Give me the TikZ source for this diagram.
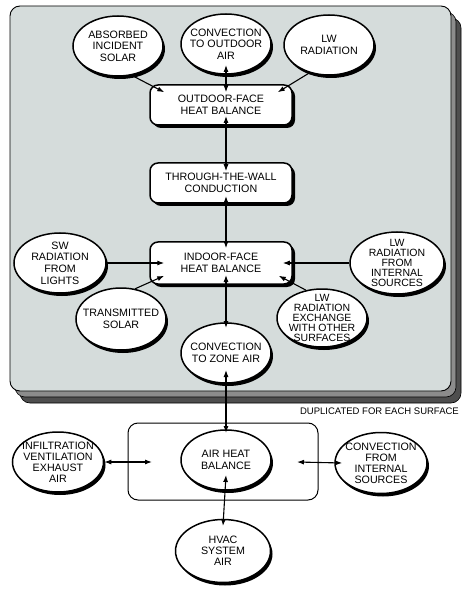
\documentclass[tikz,border=0pt]{standalone}
\usepackage{fontspec}
\setmainfont{Liberation Sans}
\usetikzlibrary{shapes.geometric,shadows,calc,arrows.meta}
\definecolor{panelfill}{HTML}{D5DCDB}
\definecolor{layerone}{HTML}{8C8C8C}
\definecolor{layertwo}{HTML}{4E4E4E}
\begin{document}
\begin{tikzpicture}[x=1pt,y=-1pt,
  ell/.style={ellipse,draw,line width=1.5pt,fill=white,minimum width=90pt,minimum height=60pt,inner sep=0pt,
    drop shadow={shadow xshift=2pt,shadow yshift=-3pt,fill=black,opacity=1}},
  lbl/.style={align=center,inner sep=0pt,font=\fontsize{10.7}{11.6}\selectfont},
  tlbl/.style={align=center,inner sep=0pt,font=\fontsize{10.5}{10.2}\selectfont},
  bx/.style={rectangle,rounded corners=8pt,draw,line width=1.5pt,fill=white,minimum width=142pt,minimum height=40pt,
    align=center,inner sep=0pt,font=\fontsize{10.7}{11.6}\selectfont,
    drop shadow={shadow xshift=3pt,shadow yshift=-3pt,fill=black,opacity=1}},
  sar/.style={-{Latex[length=7pt,width=5pt]},line width=1.1pt},
  dar/.style={{Latex[length=7pt,width=5pt]}-{Latex[length=7pt,width=5pt]},line width=1.1pt}]
\useasboundingbox[fill=white] (0,0) rectangle (466,593);
% stacked panels
\draw[line width=0.6pt,fill=layertwo,rounded corners=10pt] (20,18) rectangle (461,403);
\draw[line width=0.6pt,fill=layerone,rounded corners=10pt] (15,12) rectangle (456,397);
\draw[line width=0.9pt,fill=panelfill,rounded corners=10pt] (10,6) rectangle (451,391);
\node[anchor=east,inner sep=0pt,font=\fontsize{9.5}{10}\selectfont] (dup) at (459,411) {DUPLICATED FOR EACH SURFACE};
% outdoor side
\node[ell,label={[lbl]center:{ABSORBED\\INCIDENT\\SOLAR}}] (a) at (118,46) {};
\node[ell,label={[lbl]center:{CONVECTION\\TO OUTDOOR\\AIR}}] (b) at (226,44) {};
\node[ell,label={[lbl]center:{LW\\RADIATION}}] (c) at (329,45) {};
\node[bx] (ob) at (221,105) {OUTDOOR-FACE\\HEAT BALANCE};
\node[bx] (tw) at (221,183) {THROUGH-THE-WALL\\CONDUCTION};
\node[bx,minimum height=42pt] (if) at (221,263) {INDOOR-FACE\\HEAT BALANCE};
% indoor side
\node[ell,minimum width=92pt,label={[lbl]center:{SW\\RADIATION\\FROM\\LIGHTS}}] (sw) at (60,263) {};
\node[ell,minimum height=62pt,label={[lbl]center:{TRANSMITTED\\SOLAR}}] (tr) at (121,319) {};
\node[ell,label={[lbl]center:{CONVECTION\\TO ZONE AIR}}] (cz) at (226,353) {};
\node[ell,minimum height=58pt,label={[tlbl]center:{LW\\RADIATION\\EXCHANGE\\WITH OTHER\\SURFACES}}] (lwx) at (322,318) {};
\node[ell,minimum width=94pt,minimum height=62pt,label={[tlbl]center:{LW\\RADIATION\\FROM\\INTERNAL\\SOURCES}}] (lwi) at (397,263) {};
% air heat balance
\draw[line width=1pt,rounded corners=10pt] (128,423) rectangle (318,500);
\coordinate (boxw) at (128,462);
\coordinate (boxe) at (318,462);
\node[ell,label={[lbl]center:{AIR HEAT\\BALANCE}}] (ah) at (226,460) {};
\node[ell,minimum width=91pt,label={[lbl,font=\fontsize{10.7}{11}\selectfont]center:{INFILTRATION\\VENTILATION\\EXHAUST\\AIR}}] (inf) at (58,462) {};
\node[ell,minimum width=92pt,minimum height=61pt,label={[lbl,font=\fontsize{10.7}{11}\selectfont]center:{CONVECTION\\FROM\\INTERNAL\\SOURCES}}] (cfi) at (381,463) {};
\node[ell,minimum width=95pt,minimum height=63pt,label={[lbl,font=\fontsize{10.7}{10.8}\selectfont]center:{HVAC\\SYSTEM\\AIR}}] (hv) at (223,551) {};
% connectors
\draw[sar] (a.-65) -- ($(ob.north west)+(15,8)$);
\draw[sar] (c.-125) -- ($(ob.north east)+(-15,8)$);
\draw[dar] ($(b.center)+(0,21)$) -- ($(b.center |- ob.north)+(0,8)$);
\draw[dar] ($(b.center |- ob.center)+(0,11)$) -- ($(b.center |- tw.north)+(0,9)$);
\draw[dar] ($(b.center |- tw.center)+(0,13)$) -- ($(b.center |- if.north)+(0,7)$);
\draw[dar] ($(b.center |- if.center)+(0,12)$) -- ($(cz.center)+(0,-25)$);
\draw[sar] (sw.east) -- ($(if.west)+(15,0)$);
\draw[sar] (tr.65) -- ($(if.south west)+(15,-9)$);
\draw[sar] (lwi.west) -- ($(if.east)+(-10,0)$);
\draw[sar] (lwx.120) -- ($(if.south east)+(-14,-9)$);
\draw[dar] ($(cz.center)+(0,17)$) -- ($(ah.center)+(0,-27)$);
\draw[dar] ($(ah.center)+(0,15)$) -- ($(hv.center)+(0,-25)$);
\draw[dar] (inf.east) -- ($(boxw)+(24,0)$);
\draw[dar] ($(boxe)+(-21,0)$) -- ($(cfi.west)+(8,0)$);
\end{tikzpicture}
\end{document}
